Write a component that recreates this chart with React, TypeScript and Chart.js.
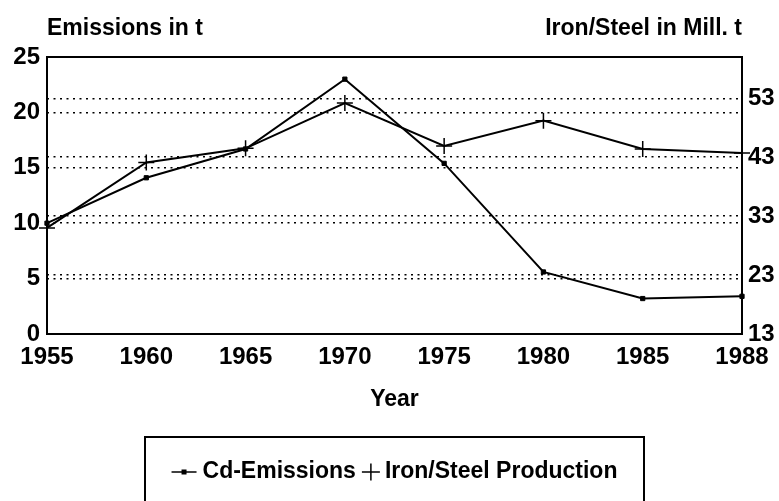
import React, { useEffect, useRef } from "react";
import { Chart, registerables } from "chart.js";

Chart.register(...registerables);

const years = ["1955", "1960", "1965", "1970", "1975", "1980", "1985", "1988"];
const cdEmissions = [10.0, 14.1, 16.7, 23.0, 15.4, 5.6, 3.2, 3.4];
const ironSteel = [31.0, 42.1, 44.5, 52.2, 44.9, 49.2, 44.4, 43.7];
const leftTicks = [0, 5, 10, 15, 20, 25];
const rightTicks = [13, 23, 33, 43, 53];
const seriesLabels = ["Cd-Emissions", "Iron/Steel Production"];
const leftTitle = "Emissions in t";
const rightTitle = "Iron/Steel in Mill. t";
const xTitle = "Year";

const FAMILY = "'Liberation Sans', Arial, Helvetica, sans-serif";

const framePlugin = {
  id: "frameAndTexts",
  beforeDatasetsDraw(chart: any) {
    const { ctx, chartArea: a } = chart;
    ctx.save();
    ctx.strokeStyle = "#000";
    ctx.lineWidth = 2;
    ctx.strokeRect(a.left, a.top, a.right - a.left, a.bottom - a.top);
    ctx.restore();
  },
  afterDraw(chart: any) {
    const { ctx, chartArea: a } = chart;
    ctx.save();
    ctx.fillStyle = "#000";
    ctx.strokeStyle = "#000";
    ctx.font = `bold 23px ${FAMILY}`;
    ctx.textBaseline = "middle";
    ctx.textAlign = "left";
    ctx.fillText(leftTitle, a.left, 29);
    ctx.textAlign = "right";
    ctx.fillText(rightTitle, a.right, 29);

    // legend
    const cx = (a.left + a.right) / 2;
    const ly = 472;
    ctx.lineWidth = 2;
    ctx.strokeRect(cx - 249.5, 437, 499, 90);
    const ds = chart.data.datasets;
    const w1 = ctx.measureText(ds[0].label).width;
    const w2 = ctx.measureText(ds[1].label).width;
    const icon1 = 25, icon2 = 18, g1 = 6, g2 = 6, g3 = 5;
    const total = icon1 + g1 + w1 + g2 + icon2 + g3 + w2;
    let x = cx - total / 2;
    ctx.lineWidth = 1.5;
    ctx.beginPath();
    ctx.moveTo(x, ly);
    ctx.lineTo(x + icon1, ly);
    ctx.stroke();
    ctx.fillRect(x + icon1 / 2 - 2.5, ly - 2.5, 5, 5);
    x += icon1 + g1;
    ctx.textAlign = "left";
    ctx.fillText(ds[0].label, x, ly);
    x += w1 + g2;
    ctx.beginPath();
    ctx.moveTo(x, ly);
    ctx.lineTo(x + icon2, ly);
    ctx.moveTo(x + icon2 / 2, ly - 8.5);
    ctx.lineTo(x + icon2 / 2, ly + 8.5);
    ctx.stroke();
    x += icon2 + g3;
    ctx.fillText(ds[1].label, x, ly);
    ctx.restore();
  },
};

export default function App() {
  const ref = useRef<HTMLCanvasElement | null>(null);
  useEffect(() => {
    if (!ref.current) return;
    const tickFont = { family: FAMILY, size: 24, weight: "bold" as const };
    const chart = new Chart(ref.current, {
      type: "line",
      data: {
        labels: years,
        datasets: [
          {
            label: seriesLabels[0],
            data: cdEmissions,
            yAxisID: "y",
            borderColor: "#000",
            backgroundColor: "#000",
            borderWidth: 2,
            pointStyle: "rect",
            pointRadius: 3,
            pointBorderWidth: 1,
            tension: 0,
            clip: false as any,
          },
          {
            label: seriesLabels[1],
            data: ironSteel,
            yAxisID: "y2",
            borderColor: "#000",
            backgroundColor: "#000",
            borderWidth: 2,
            pointStyle: "cross",
            pointRadius: 8,
            pointBorderWidth: 1.5,
            tension: 0,
            clip: false as any,
          },
        ],
      },
      options: {
        responsive: false,
        animation: false,
        layout: { padding: { top: 57, left: 0, right: 0, bottom: 88 } },
        plugins: {
          legend: { display: false },
          tooltip: { enabled: false },
        },
        scales: {
          x: {
            type: "category",
            offset: false,
            grid: { display: false, drawTicks: false },
            border: { display: false },
            ticks: { color: "#000", font: tickFont, padding: 9, maxRotation: 0, autoSkip: false },
            title: { display: true, text: xTitle, color: "#000", font: { family: FAMILY, size: 23, weight: "bold" }, padding: 0 },
            afterFit(s: any) { s.height = 79; },
          },
          y: {
            position: "left",
            min: 0,
            max: 25,
            afterBuildTicks(s: any) { s.ticks = leftTicks.map((v) => ({ value: v })); },
            grid: { color: "#000", lineWidth: 1.5, drawTicks: false },
            border: { display: false, dash: [2, 4.5] },
            ticks: { color: "#000", font: tickFont, padding: 7 },
            afterFit(s: any) { s.width = 47; },
          },
          y2: {
            position: "right",
            min: 13,
            max: 60,
            afterBuildTicks(s: any) { s.ticks = rightTicks.map((v) => ({ value: v })); },
            grid: { color: "#000", lineWidth: 1.5, drawTicks: false },
            border: { display: false, dash: [2, 4.5] },
            ticks: { color: "#000", font: tickFont, padding: 6 },
            afterFit(s: any) { s.width = 37; },
          },
        },
      },
      plugins: [framePlugin],
    });
    return () => chart.destroy();
  }, []);
  return (
    <div style={{ position: "absolute", left: 0, top: 0, width: 779, height: 501, background: "#fff" }}>
      <canvas ref={ref} width={779} height={501} style={{ display: "block" }} />
    </div>
  );
}
